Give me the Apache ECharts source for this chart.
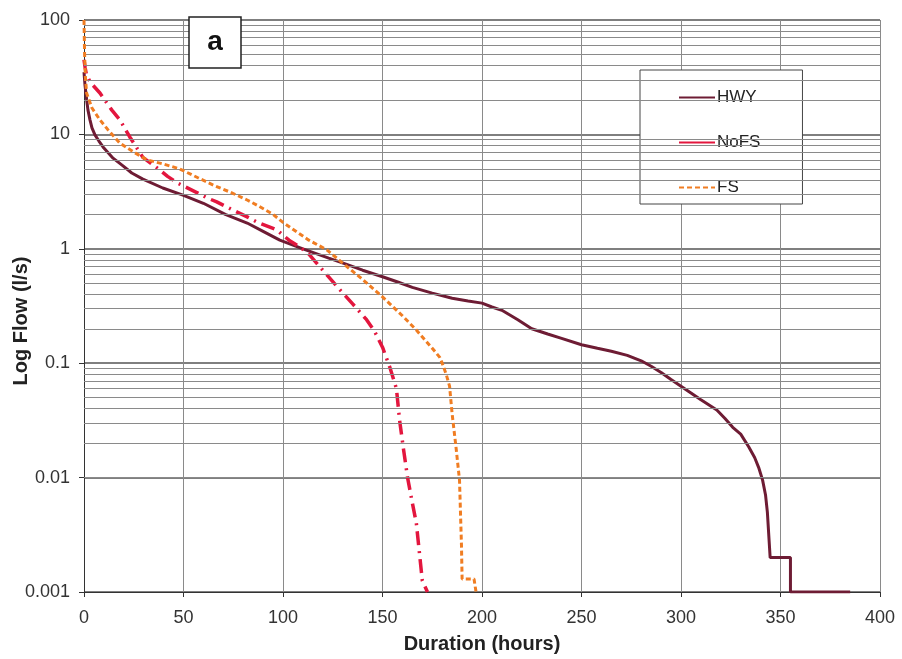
<!DOCTYPE html>
<html>
<head>
<meta charset="utf-8">
<script src="https://cdn.jsdelivr.net/npm/echarts@6/dist/echarts.min.js"></script>
<style>
  html, body { margin: 0; padding: 0; background: #fff; }
  #chart { width: 902px; height: 659px; }
</style>
</head>
<body>
<div id="chart"></div>
<script>
// duration (hours), flow (l/s)
const hwy = [
  [0, 35], [0.5, 27], [1.35, 20], [2, 16.3], [3, 13.4], [4, 11.4], [5.5, 9.9], [7.5, 8.75],
  [10, 7.6], [14.6, 6.2], [19.6, 5.3], [24, 4.6], [29.6, 4.07], [39.6, 3.4], [49.7, 2.95],
  [60, 2.5], [71, 2], [82, 1.68], [90, 1.42], [98.4, 1.19], [110, 1.0], [123, 0.83],
  [132, 0.73], [140, 0.65], [150, 0.57], [158, 0.51], [165, 0.46], [175, 0.41],
  [185, 0.37], [193, 0.35], [200, 0.335], [205, 0.31], [210, 0.29], [218, 0.24],
  [225, 0.2], [233, 0.18], [240, 0.165], [250, 0.145], [258, 0.135], [265, 0.127],
  [273, 0.117], [280, 0.105], [285, 0.094], [290, 0.083], [295, 0.072], [300, 0.063],
  [305, 0.055], [310, 0.048], [318, 0.039], [322, 0.033], [326, 0.0275], [330, 0.024],
  [334, 0.0186], [337, 0.015], [339, 0.0123], [341, 0.0095], [342.5, 0.007],
  [343.4, 0.005], [344.8, 0.002], [355, 0.002], [355, 0.001], [385, 0.001]
];
const nofs = [
  [0, 45], [0.6, 38], [1.3, 33], [2.5, 30], [4, 27.5], [8, 23], [14, 16.3], [18, 13.4],
  [23, 9.5], [29.6, 6.3], [38, 4.9], [42, 4.3], [47, 3.76], [56.7, 3.1], [62, 2.78],
  [66.7, 2.57], [77, 2.09], [82, 1.9], [87, 1.71], [97, 1.46], [103, 1.19], [108, 1.05],
  [113, 0.9], [120, 0.65], [128.5, 0.44], [135, 0.33], [142, 0.24], [146, 0.19],
  [150, 0.138], [153.6, 0.093], [157, 0.06], [158.6, 0.0316], [160.5, 0.018],
  [162.6, 0.01], [165, 0.006], [167, 0.004], [170, 0.00126], [172.6, 0.001]
];
const fs = [
  [0, 100], [0.3, 50], [0.7, 32], [1.3, 23], [4, 17], [8, 13.4], [12, 11], [18, 8.4],
  [25, 7], [31.6, 6], [40, 5.5], [48, 5], [57, 4.2], [65, 3.6], [74, 3.1], [82, 2.67],
  [88, 2.35], [95, 2.0], [100, 1.7], [107, 1.4], [113, 1.19], [122, 0.98], [130, 0.75],
  [140, 0.54], [150, 0.38], [160, 0.26], [167, 0.195], [175, 0.135], [178.7, 0.113],
  [180, 0.1], [182, 0.08], [183.7, 0.063], [185, 0.036], [187, 0.018], [188.7, 0.0095],
  [189.7, 0.0025], [190, 0.0013], [196, 0.0013], [197, 0.001]
];
const decades = [0.001, 0.01, 0.1, 1, 10];
const minorSteps = [2, 3, 4, 5, 6, 7, 8, 9];

// minor horizontal gridlines at 2..9 of each decade
let minorLines = [];
decades.forEach(function (d) {
  minorSteps.forEach(function (m) {
    minorLines.push({ yAxis: parseFloat((m * d).toPrecision(3)) });
  });
});

let myChart = echarts.init(document.getElementById('chart'));
let font = 'Liberation Sans, Arial, sans-serif';
let option = {
  animation: false,
  backgroundColor: '#fff',
  grid: {
    left: 84, right: 22, top: 20, bottom: 67,
    containLabel: false, outerBoundsMode: 'none'
  },
  legend: {
    orient: 'vertical',
    left: 640,
    top: 70,
    padding: [19, 42, 8, 38],
    itemGap: 28,
    itemWidth: 36,
    itemHeight: 14,
    borderColor: '#444',
    borderWidth: 1,
    backgroundColor: '#fff',
    itemStyle: { opacity: 0 },
    textStyle: { fontFamily: font, fontSize: 17, color: '#222', padding: [0, 0, 0, -3] },
    data: [
      { name: 'HWY' },
      { name: 'NoFS', lineStyle: { type: 'solid' } },
      { name: 'FS' }
    ]
  },
  graphic: [
    { type: 'rect', shape: { x: 189, y: 17, width: 52, height: 51 },
      style: { fill: '#fff', stroke: '#222', lineWidth: 1.5 }, z: 10 },
    { type: 'text', z: 11,
      style: { text: 'a', x: 215, y: 42, align: 'center', verticalAlign: 'middle',
               font: 'bold 28px ' + font, fill: '#111' } }
  ],
  xAxis: {
    type: 'value',
    min: 0,
    max: 400,
    interval: 50,
    name: 'Duration (hours)',
    nameLocation: 'middle',
    nameGap: 42,
    nameMoveOverlap: false,
    nameTextStyle: { fontFamily: font, fontSize: 20, fontWeight: 'bold', color: '#222' },
    axisLine: { show: true, lineStyle: { color: '#333', width: 1 } },
    axisTick: { show: true, length: 5, lineStyle: { color: '#333' } },
    axisLabel: { fontFamily: font, fontSize: 18, color: '#333', margin: 17 },
    splitLine: { show: true, lineStyle: { color: '#8a8a8a', width: 1 } }
  },
  yAxis: {
    type: 'log',
    logBase: 10,
    min: 0.001,
    max: 100,
    interval: 1,
    name: 'Log Flow (l/s)',
    nameLocation: 'middle',
    nameGap: 53,
    nameMoveOverlap: false,
    nameTextStyle: {
      fontFamily: font, fontSize: 20, fontWeight: 'bold', color: '#222',
      padding: [0, 30, 0, 0]
    },
    axisLine: { show: true, lineStyle: { color: '#333', width: 1 } },
    axisTick: { show: true, length: 5, lineStyle: { color: '#333' } },
    axisLabel: {
      fontFamily: font, fontSize: 18, color: '#333', margin: 14,
      formatter: function (v) { return String(parseFloat(v.toPrecision(3))); }
    },
    splitLine: { show: true, lineStyle: { color: '#555', width: 1.6 } }
  },
  series: [
    {
      name: 'grid',
      type: 'line',
      data: [],
      z: 1,
      markLine: {
        silent: true,
        symbol: ['none', 'none'],
        label: { show: false },
        lineStyle: { color: '#8a8a8a', width: 1, type: 'solid' },
        emphasis: { disabled: true },
        data: minorLines
      }
    },
    {
      name: 'HWY',
      type: 'line',
      data: hwy,
      symbol: 'none',
      z: 3,
      itemStyle: { color: '#6e1c34' },
      lineStyle: { color: '#6e1c34', width: 3 }
    },
    {
      name: 'NoFS',
      type: 'line',
      data: nofs,
      symbol: 'none',
      z: 4,
      itemStyle: { color: '#e3163e' },
      lineStyle: { color: '#e3163e', width: 3.5, type: [14, 6, 2, 6] }
    },
    {
      name: 'FS',
      type: 'line',
      data: fs,
      symbol: 'none',
      z: 5,
      itemStyle: { color: '#f07d22' },
      lineStyle: { color: '#f07d22', width: 3, type: [5, 3] }
    }
  ]
};
myChart.setOption(option);
window.addEventListener('resize', function () { myChart.resize(); });
</script>
</body>
</html>
